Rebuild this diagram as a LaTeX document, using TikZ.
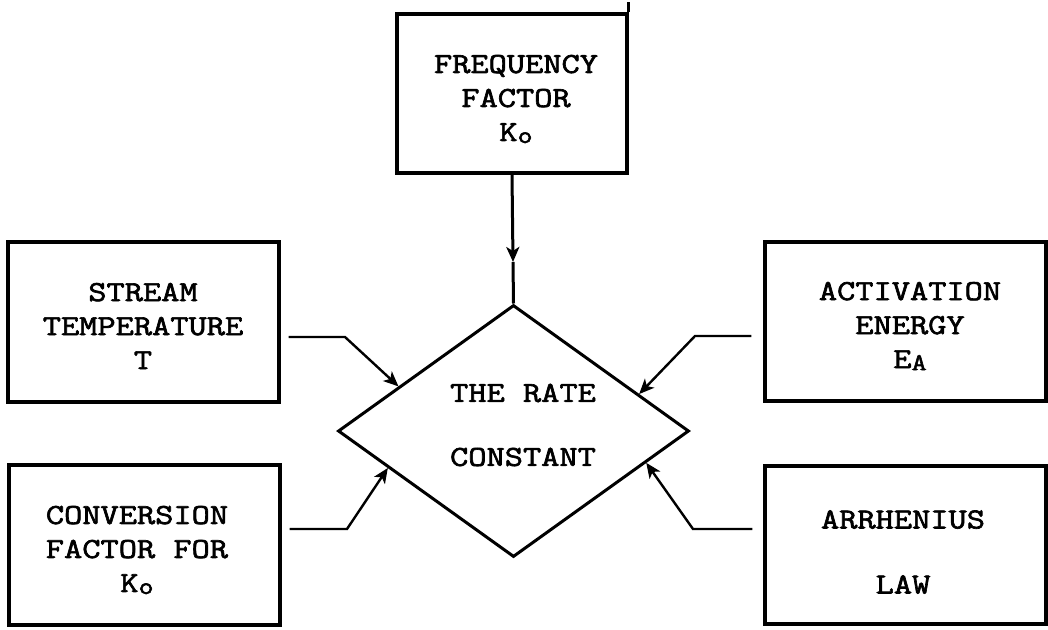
\documentclass[tikz,border=0pt]{standalone}
\usepackage{fontspec}
\setmonofont{Latin Modern Mono}[FakeStretch=1.22,FakeBold=2.3]
\usetikzlibrary{shapes.geometric,arrows.meta,calc}
\newcommand\lowsub[1]{\raisebox{-2pt}{\fontsize{24}{24}\selectfont #1}}
\begin{document}
\begin{tikzpicture}[x=1pt,y=-1pt,
  every node/.style={font=\ttfamily\fontsize{29}{34}\selectfont, align=center},
  infobox/.style={draw, line width=3.4pt, rectangle, inner sep=0pt},
  link/.style={line width=2.6pt},
  arr/.style={line width=2.4pt, -{Stealth[length=15pt,width=13pt,inset=4pt]}}]
  \useasboundingbox (0,0) rectangle (1048,629);

  % input boxes
  \node[infobox, minimum width=230pt, minimum height=159pt] (freq) at (512,93.5) {};
  \node at (516,99) {FREQUENCY\\ FACTOR\\ K\lowsub{o}};
  \node[infobox, minimum width=271pt, minimum height=160pt] (stream) at (143.5,322) {};
  \node at (143,326) {STREAM\\TEMPERATURE\\T};
  \node[infobox, minimum width=271pt, minimum height=160pt] (conv) at (144.5,545) {};
  \node at (137,550) {CONVERSION\\FACTOR FOR\\K\lowsub{o}};
  \node[infobox, minimum width=281pt, minimum height=159pt] (act) at (905.5,321.5) {};
  \node at (910,326) {ACTIVATION\\ENERGY\\E\lowsub{A}};
  \node[infobox, minimum width=281pt, minimum height=158pt] (arr) at (905.5,545) {};
  \node at (903,552) {ARRHENIUS\\[31pt]LAW};

  % small overshoot of the top box's right edge
  \draw[line width=3.4pt] (freq.north east) -- ++(0,-10);

  % decision diamond
  \node[draw, diamond, line width=3pt, inner sep=0pt,
        minimum width=351pt, minimum height=252pt] (rate) at (513.5,431) {};
  \node (ratetext) at (523,425) {THE RATE\\[30pt]CONSTANT};

  % connectors
  \coordinate (ktip) at (513,262);
  \draw[arr, line width=3pt] (freq.south) -- (ktip);
  \draw[link, line width=3pt] (ktip) -- (rate.north);

  \coordinate (s1) at (345,337);
  \draw[arr] ([shift={(8,15)}]stream.east) -- (s1) -- ($(rate.west)!0.35!(rate.north)$);
  \coordinate (c1) at (347,529);
  \draw[arr] ([shift={(8,-16)}]conv.east) -- (c1) -- ($(rate.west)!0.29!(rate.south)$);
  \coordinate (a1) at (695,336);
  \draw[arr] ([shift={(-12,14.5)}]act.west) -- (a1) -- ($(rate.east)!0.29!(rate.north)$);
  \coordinate (r1) at (693,529);
  \draw[arr] ([shift={(-11,-16)}]arr.west) -- (r1) -- ($(rate.east)!0.25!(rate.south)$);
\end{tikzpicture}
\end{document}
